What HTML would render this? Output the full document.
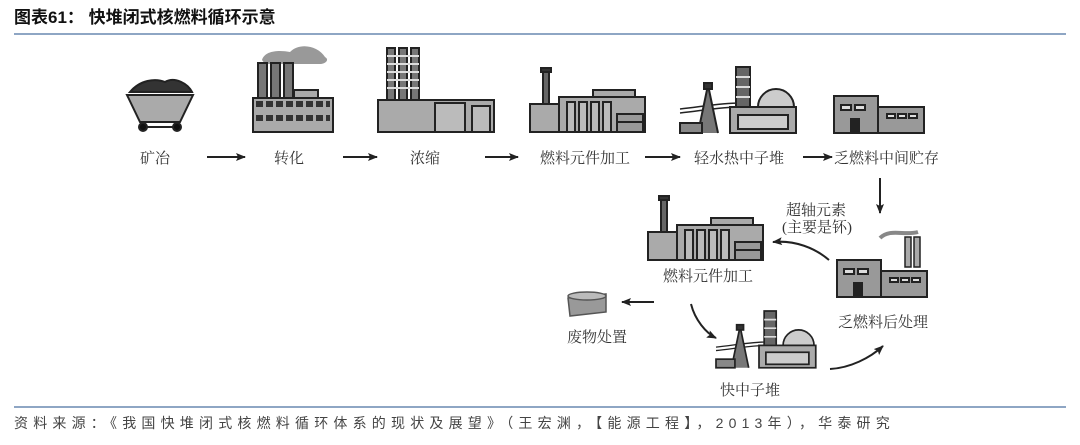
<!DOCTYPE html>
<html><head><meta charset="utf-8"><style>
html,body{margin:0;padding:0;background:#fff;}
body{width:1080px;height:440px;overflow:hidden;}
svg text{font-family:"Liberation Serif","Noto Serif CJK SC",serif;fill:#333;}
</style></head><body>
<svg width="1080" height="440" viewBox="0 0 1080 440" xmlns="http://www.w3.org/2000/svg">
<defs>
<marker id="ah" markerWidth="10" markerHeight="8" refX="9" refY="4" orient="auto" markerUnits="userSpaceOnUse">
<path d="M0,0 L10,4 L0,8 L2,4 Z" fill="#222"/></marker>
<g id="fab" stroke="#222" stroke-width="2" fill="#aaa">
<rect x="14" y="2" width="6" height="40" fill="#666"/>
<rect x="12" y="0" width="10" height="4" fill="#333"/>
<rect x="1" y="36" width="30" height="28"/>
<rect x="64" y="22" width="42" height="8"/>
<rect x="30" y="29" width="86" height="35"/>
<rect x="38" y="34" width="8" height="30" fill="#bbb"/>
<rect x="50" y="34" width="8" height="30" fill="#bbb"/>
<rect x="62" y="34" width="8" height="30" fill="#bbb"/>
<rect x="74" y="34" width="8" height="30" fill="#bbb"/>
<rect x="88" y="46" width="26" height="18" fill="#999"/>
<line x1="88" y1="54" x2="114" y2="54"/>
</g>
<g id="reactor" stroke="#222" stroke-width="2" fill="#aaa">
<path d="M0,42 C20,40 40,36 60,36" fill="none" stroke-width="1.5"/>
<path d="M0,46 C20,44 40,40 60,40" fill="none" stroke-width="1.5"/>
<path d="M18,66 L28,18 L38,66" fill="#777"/>
<rect x="24" y="16" width="8" height="6" fill="#333"/>
<rect x="56" y="0" width="14" height="50" fill="#666"/>
<path d="M56,10 h14 M56,20 h14 M56,30 h14 M56,40 h14" stroke="#ddd" stroke-width="2"/>
<path d="M78,40 A18,18 0 0 1 114,40 Z" fill="#ccc"/>
<rect x="50" y="40" width="66" height="26"/>
<rect x="58" y="48" width="50" height="14" fill="#ccc"/>
<rect x="0" y="56" width="22" height="10" fill="#888"/>
</g>
<g id="bld" stroke="#222" stroke-width="2" fill="#999">
<rect x="1" y="1" width="44" height="37"/>
<rect x="45" y="12" width="46" height="26"/>
<rect x="8" y="10" width="10" height="5" fill="#ddd"/>
<rect x="22" y="10" width="10" height="5" fill="#ddd"/>
<rect x="54" y="19" width="8" height="4" fill="#ddd"/>
<rect x="65" y="19" width="8" height="4" fill="#ddd"/>
<rect x="76" y="19" width="8" height="4" fill="#ddd"/>
<rect x="18" y="24" width="8" height="14" fill="#222"/>
</g>
</defs>

<text x="14" y="23" style="font-family:'Liberation Sans','Noto Sans CJK SC',sans-serif;font-weight:bold;font-size:17px;fill:#111">图表61：  快堆闭式核燃料循环示意</text>
<rect x="14" y="33" width="1052" height="2" fill="#8ea6c4"/>

<g stroke="#222" stroke-width="2">
<path d="M130,92 C140,80 155,78 165,82 C175,76 188,84 192,92 Z" fill="#333"/>
<path d="M127,95 L193,95 L180,122 L140,122 Z" fill="#aaa"/>
<line x1="143" y1="127" x2="177" y2="127"/>
<circle cx="143" cy="127" r="4" fill="#111"/><circle cx="177" cy="127" r="4" fill="#111"/>
</g>
<g stroke="#222" stroke-width="2" fill="#aaa">
<path d="M262,60 C265,50 280,50 290,52 C300,42 318,46 325,57 C330,60 325,64 320,64 L265,64 Z" fill="#999" stroke="none"/>
<rect x="258" y="63" width="9" height="35" fill="#777"/>
<rect x="271" y="63" width="9" height="35" fill="#777"/>
<rect x="284" y="63" width="9" height="35" fill="#777"/>
<rect x="294" y="90" width="24" height="8"/>
<rect x="253" y="98" width="80" height="34"/>
<path d="M256,104 h74 M256,118 h74" stroke="#333" stroke-width="6" stroke-dasharray="7,3"/>
</g>
<g stroke="#222" stroke-width="2" fill="#aaa">
<rect x="387" y="48" width="8" height="52" fill="#777"/>
<rect x="399" y="48" width="8" height="52" fill="#777"/>
<rect x="411" y="48" width="8" height="52" fill="#777"/>
<path d="M387,56h32M387,64h32M387,72h32M387,80h32M387,88h32" stroke="#ddd" stroke-width="2"/>
<rect x="378" y="100" width="116" height="32"/>
<rect x="435" y="103" width="30" height="29" fill="#bbb"/>
<rect x="472" y="106" width="18" height="26" fill="#bbb"/>
</g>
<use href="#fab" x="529" y="68"/>
<use href="#reactor" x="680" y="67"/>
<use href="#bld" x="833" y="95"/>

<g font-size="15">
<text x="140" y="163">矿冶</text>
<text x="274" y="163">转化</text>
<text x="410" y="163">浓缩</text>
<text x="540" y="163">燃料元件加工</text>
<text x="694" y="163">轻水热中子堆</text>
<text x="834" y="163">乏燃料中间贮存</text>
</g>
<g stroke="#222" stroke-width="2" marker-end="url(#ah)">
<line x1="207" y1="157" x2="245" y2="157"/>
<line x1="343" y1="157" x2="377" y2="157"/>
<line x1="485" y1="157" x2="518" y2="157"/>
<line x1="645" y1="157" x2="680" y2="157"/>
<line x1="803" y1="157" x2="832" y2="157"/>
<line x1="880" y1="178" x2="880" y2="213"/>
</g>

<use href="#fab" x="647" y="196"/>
<g>
<path d="M880,238 C890,228 905,236 918,232" stroke="#888" stroke-width="4" fill="none"/>
<rect x="905" y="237" width="6" height="30" fill="#aaa" stroke="#222" stroke-width="1.5"/>
<rect x="914" y="237" width="6" height="30" fill="#aaa" stroke="#222" stroke-width="1.5"/>
<use href="#bld" x="836" y="259"/>
</g>
<g stroke="#555" stroke-width="1.5">
<path d="M568,298 L606,294 L606,312 L570,316 Z" fill="#999"/>
<ellipse cx="587" cy="296" rx="19" ry="4" fill="#bbb"/>
</g>
<g transform="translate(716,311) scale(0.86)"><use href="#reactor"/></g>

<g font-size="15">
<text x="663" y="281">燃料元件加工</text>
<text x="838" y="327">乏燃料后处理</text>
<text x="567" y="342">废物处置</text>
<text x="720" y="395">快中子堆</text>
<text x="786" y="215">超轴元素</text>
<text x="782" y="232">(主要是钚)</text>
</g>
<g stroke="#222" stroke-width="2" fill="none" marker-end="url(#ah)">
<path d="M829,260 C815,248 795,240 773,242"/>
<line x1="654" y1="302" x2="622" y2="302"/>
<path d="M691,304 C695,320 706,333 716,338"/>
<path d="M830,369 C850,368 870,358 883,346"/>
</g>

<rect x="14" y="406" width="1052" height="2" fill="#8ea6c4"/>
<text x="14" y="428" style="font-family:'Liberation Sans','Noto Sans CJK SC',sans-serif;font-size:14px;fill:#444;letter-spacing:5.2px">资料来源：《我国快堆闭式核燃料循环体系的现状及展望》（王宏渊，【能源工程】，2013年），华泰研究</text>
</svg>
</body></html>
